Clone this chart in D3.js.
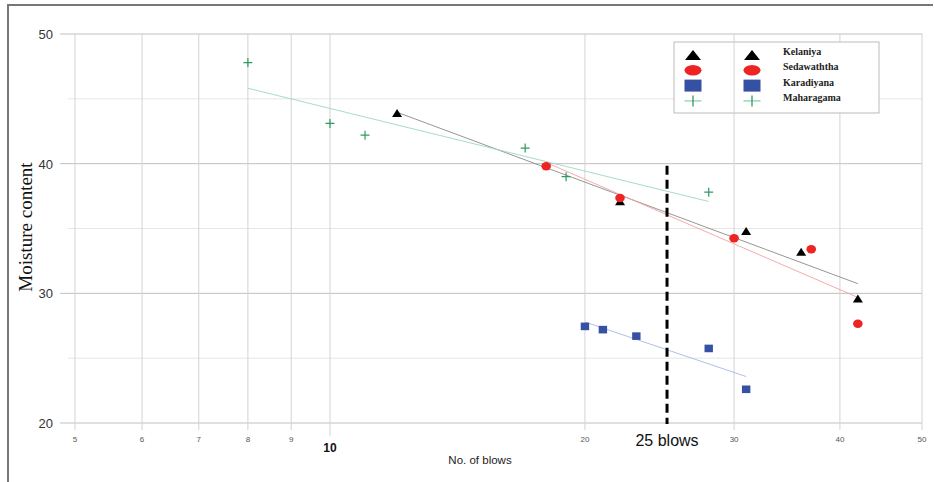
<!DOCTYPE html>
<html lang="en">
<head>
<meta charset="UTF-8">
<title>Moisture content vs No. of blows</title>
<script src="https://d3js.org/d3.v7.min.js"></script>
<style>
  body { margin: 0; background: #fff; }
  svg { display: block; }
</style>
</head>
<body>
<script>
// data
const kelaniyaBlows = [12, 22, 31, 36, 42];
const kelaniyaMoisture = [43.9, 37.1, 34.8, 33.2, 29.6];
const sedawaththaBlows = [18, 22, 30, 37, 42];
const sedawaththaMoisture = [39.8, 37.35, 34.25, 33.4, 27.65];
const karadiyanaBlows = [20, 21, 23, 28, 31];
const karadiyanaMoisture = [27.45, 27.2, 26.7, 25.75, 22.6];
const maharagamaBlows = [8, 10, 11, 17, 19, 28];
const maharagamaMoisture = [47.8, 43.1, 42.2, 41.2, 39.0, 37.8];

const xTicks = [5, 6, 7, 8, 9, 20, 30, 40, 50];
const yTicks = [20, 30, 40, 50];
const yMinor = [25, 35, 45];
const liquidLimitBlows = 25;

const width = 934, height = 482;
const svg = d3.select("body").append("svg")
    .attr("width", width).attr("height", height);

const x = d3.scaleLog().domain([5, 50]).range([75, 922]);
const y = d3.scaleLinear().domain([20, 50]).range([423, 34]);

// outer frame (top + left)
svg.append("path")
    .attr("d", `M8,${height} L8,5 L933,5`)
    .attr("fill", "none").attr("stroke", "#777").attr("stroke-width", 2);

// grid
const grid = svg.append("g");
grid.selectAll("line.minor").data(yMinor).join("line")
    .attr("x1", 68).attr("x2", x(50))
    .attr("y1", d => y(d)).attr("y2", d => y(d))
    .attr("stroke", "#e6e6e6").attr("stroke-width", 1);
grid.selectAll("line.major").data(yTicks).join("line")
    .attr("x1", 60).attr("x2", x(50))
    .attr("y1", d => y(d)).attr("y2", d => y(d))
    .attr("stroke", "#c0c0c0").attr("stroke-width", 1);
grid.selectAll("line.vert").data(xTicks.concat([10])).join("line")
    .attr("x1", d => x(d)).attr("x2", d => x(d))
    .attr("y1", y(50)).attr("y2", d => d === 10 ? 436 : 430)
    .attr("stroke", "#d3d3d3").attr("stroke-width", 1);

// axis labels
svg.append("g").selectAll("text").data(yTicks).join("text")
    .attr("x", 53).attr("y", d => y(d) + 5)
    .attr("text-anchor", "end")
    .attr("font-family", "Liberation Sans, Arial, sans-serif")
    .attr("font-size", 13).attr("fill", "#333")
    .text(d => d);

svg.append("g").selectAll("text").data(xTicks).join("text")
    .attr("x", d => x(d)).attr("y", 442)
    .attr("text-anchor", "middle")
    .attr("font-family", "Liberation Sans, Arial, sans-serif")
    .attr("font-size", 8).attr("fill", "#555")
    .text(d => d);

svg.append("text")
    .attr("x", x(10)).attr("y", 452)
    .attr("text-anchor", "middle")
    .attr("font-family", "Liberation Sans, Arial, sans-serif")
    .attr("font-size", 12).attr("font-weight", "bold").attr("fill", "#111")
    .text("10");

svg.append("text")
    .attr("x", 480).attr("y", 464)
    .attr("text-anchor", "middle")
    .attr("font-family", "Liberation Sans, Arial, sans-serif")
    .attr("font-size", 11.5).attr("fill", "#222")
    .text("No. of blows");

svg.append("text")
    .attr("transform", `translate(32,227) rotate(-90)`)
    .attr("text-anchor", "middle")
    .attr("font-family", "Liberation Serif, Times New Roman, serif")
    .attr("font-size", 19).attr("fill", "#111")
    .text("Moisture content");

// least squares fit on log10(blows)
function fit(bx, my) {
    const lx = bx.map(Math.log10);
    const mx = d3.mean(lx), mm = d3.mean(my);
    const slope = d3.sum(lx, (v, i) => (v - mx) * (my[i] - mm)) / d3.sum(lx, v => (v - mx) ** 2);
    const ends = d3.extent(bx);
    return ends.map(b => [b, mm + slope * (Math.log10(b) - mx)]);
}

const series = [
    { name: "Kelaniya", bx: kelaniyaBlows, my: kelaniyaMoisture, shape: "tri", color: "#000", line: "#8a8a8a" },
    { name: "Sedawaththa", bx: sedawaththaBlows, my: sedawaththaMoisture, shape: "circ", color: "#ee2424", line: "#f4a0a0" },
    { name: "Karadiyana", bx: karadiyanaBlows, my: karadiyanaMoisture, shape: "sq", color: "#3651a3", line: "#a8b8e4" },
    { name: "Maharagama", bx: maharagamaBlows, my: maharagamaMoisture, shape: "plus", color: "#2f9a60", line: "#9fd6c2" }
];

// trend lines
series.forEach(s => {
    const p = fit(s.bx, s.my);
    svg.append("line")
        .attr("x1", x(p[0][0])).attr("y1", y(p[0][1]))
        .attr("x2", x(p[1][0])).attr("y2", y(p[1][1]))
        .attr("stroke", s.line).attr("stroke-width", 0.9);
});

// sz = [half width, half height]
function drawMarker(g, shape, color, cx, cy, sz) {
    const [w, h] = sz;
    if (shape === "tri") {
        g.append("path")
            .attr("d", `M${cx - w},${cy + h} L${cx + w},${cy + h} L${cx},${cy - h} Z`)
            .attr("fill", color);
    } else if (shape === "circ") {
        g.append("ellipse").attr("cx", cx).attr("cy", cy)
            .attr("rx", w).attr("ry", h).attr("fill", color);
    } else if (shape === "sq") {
        g.append("rect").attr("x", cx - w).attr("y", cy - h)
            .attr("width", 2 * w).attr("height", 2 * h).attr("fill", color);
    } else {
        g.append("path")
            .attr("d", `M${cx - w},${cy} H${cx + w}`)
            .attr("stroke", "#8fd0b0").attr("stroke-width", 1.3);
        g.append("path")
            .attr("d", `M${cx},${cy - h} V${cy + h}`)
            .attr("stroke", color).attr("stroke-width", 1.3);
    }
}

const plotSize = { tri: [5, 4], circ: [4.8, 4.2], sq: [4.2, 3.8], plus: [4.5, 4.5] };
const legendSize = { tri: [8, 5], circ: [8.5, 5.2], sq: [8.5, 6], plus: [8.5, 5.5] };

// points (Kelaniya first so circles sit on top)
const pts = svg.append("g");
series.forEach(s => {
    s.bx.forEach((b, i) => {
        if (s.shape === "plus") {
            const cx = x(b), cy = y(s.my[i]), r = 4.5;
            pts.append("path")
                .attr("d", `M${cx - r},${cy} H${cx + r} M${cx},${cy - r} V${cy + r}`)
                .attr("stroke", s.color).attr("stroke-width", 1.2).attr("fill", "none");
        } else {
            drawMarker(pts, s.shape, s.color, x(b), y(s.my[i]), plotSize[s.shape]);
        }
    });
});

// 25 blows line
svg.append("line")
    .attr("x1", x(liquidLimitBlows)).attr("x2", x(liquidLimitBlows))
    .attr("y1", y(40) + 2).attr("y2", y(20) + 1)
    .attr("stroke", "#000").attr("stroke-width", 3)
    .attr("stroke-dasharray", "9,5");

svg.append("text")
    .attr("x", x(liquidLimitBlows)).attr("y", 446)
    .attr("text-anchor", "middle")
    .attr("font-family", "Liberation Sans, Arial, sans-serif")
    .attr("font-size", 16).attr("fill", "#111")
    .text("25 blows");

// legend
const legend = svg.append("g");
legend.append("rect")
    .attr("x", 674).attr("y", 42).attr("width", 205).attr("height", 71)
    .attr("fill", "#fff").attr("stroke", "#bbb").attr("stroke-width", 1);
legend.append("line")
    .attr("x1", x(30)).attr("x2", x(30)).attr("y1", 42).attr("y2", 113)
    .attr("stroke", "#d6d6d6");
series.forEach((s, i) => {
    const ly = 55 + i * 15.3;
    drawMarker(legend, s.shape, s.color, 693, ly, legendSize[s.shape]);
    drawMarker(legend, s.shape, s.color, 752, ly, legendSize[s.shape]);
    legend.append("text")
        .attr("x", 783).attr("y", ly)
        .attr("font-family", "Liberation Serif, Times New Roman, serif")
        .attr("font-size", 10).attr("font-weight", "bold").attr("fill", "#222")
        .text(s.name);
});
</script>
</body>
</html>
